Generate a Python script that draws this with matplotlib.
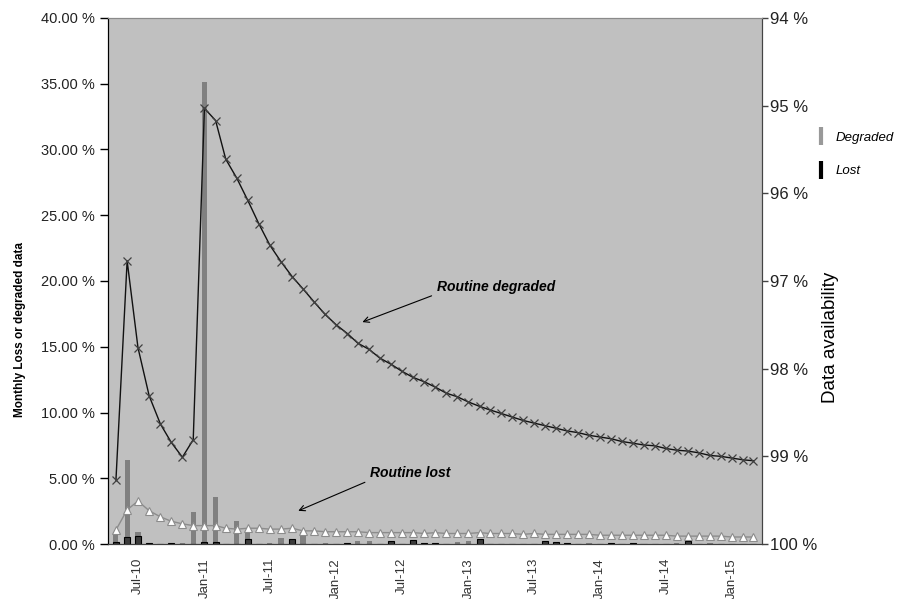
import matplotlib.pyplot as plt
import matplotlib.dates as mdates
from matplotlib.lines import Line2D
import pandas as pd

plt.rcParams['font.family'] = ['Liberation Sans', 'DejaVu Sans']

# monthly series, May-10 .. Mar-15
months = pd.date_range('2010-05-01', periods=59, freq='MS')

# bars (left axis, % of month)
degraded_bar = [0.8, 6.4, 0.9, 0.1, 0.0, 0.1, 0.05, 2.4, 35.1, 3.6,
                0.0, 1.75, 0.9, 0.0, 0.1, 0.45, 0.0, 0.9, 0.0, 0.05,
                0.0, 0.05, 0.2, 0.2, 0.0, 0.1, 0.0, 0.1, 0.1, 0.1,
                0.0, 0.15, 0.2, 0.4, 0.0, 0.0, 0.0, 0.0, 0.0, 0.1,
                0.1, 0.1, 0.0, 0.1, 0.0, 0.05, 0.0, 0.05, 0.0, 0.0,
                0.0, 0.1, 0.25, 0.0, 0.1, 0.0, 0.0, 0.0, 0.0]
lost_bar = [0.15, 0.55, 0.6, 0.05, 0.0, 0.1, 0.0, 0.0, 0.15, 0.15,
            0.0, 0.0, 0.4, 0.0, 0.0, 0.0, 0.4, 0.0, 0.0, 0.0,
            0.0, 0.1, 0.0, 0.0, 0.0, 0.25, 0.0, 0.3, 0.1, 0.05,
            0.0, 0.0, 0.0, 0.35, 0.0, 0.0, 0.0, 0.0, 0.0, 0.25,
            0.15, 0.1, 0.0, 0.0, 0.0, 0.1, 0.0, 0.1, 0.0, 0.0,
            0.0, 0.0, 0.2, 0.0, 0.0, 0.0, 0.0, 0.0, 0.0]

# lines (right axis, cumulative availability %)
routine_degraded = [99.27, 96.77, 97.76, 98.31, 98.63, 98.84, 99.01, 98.81, 95.03, 95.17,
                    95.61, 95.83, 96.08, 96.35, 96.59, 96.78, 96.95, 97.09, 97.24, 97.38,
                    97.50, 97.60, 97.71, 97.78, 97.88, 97.95, 98.03, 98.10, 98.15, 98.21,
                    98.28, 98.32, 98.38, 98.43, 98.47, 98.51, 98.55, 98.59, 98.62, 98.65,
                    98.68, 98.71, 98.73, 98.76, 98.78, 98.80, 98.83, 98.85, 98.87, 98.88,
                    98.91, 98.93, 98.94, 98.96, 98.99, 99.00, 99.02, 99.04, 99.05]
routine_lost = [99.84, 99.61, 99.51, 99.62, 99.69, 99.74, 99.77, 99.79, 99.79, 99.79,
                99.82, 99.83, 99.82, 99.82, 99.83, 99.83, 99.82, 99.85, 99.85, 99.86,
                99.86, 99.86, 99.86, 99.87, 99.87, 99.87, 99.87, 99.87, 99.88, 99.87,
                99.88, 99.88, 99.88, 99.87, 99.88, 99.88, 99.88, 99.89, 99.88, 99.89,
                99.89, 99.89, 99.89, 99.89, 99.90, 99.90, 99.90, 99.90, 99.90, 99.90,
                99.90, 99.91, 99.91, 99.91, 99.91, 99.91, 99.92, 99.92, 99.92]

left_ticks = [0, 5, 10, 15, 20, 25, 30, 35, 40]
right_ticks = [94, 95, 96, 97, 98, 99, 100]

fig = plt.figure(figsize=(8.97, 5.99), dpi=100)
ax = fig.add_axes([0.1204, 0.0918, 0.7291, 0.8782])
ax.set_facecolor('#c0c0c0')

ax.bar(months, degraded_bar, width=14, color='#808080', zorder=2)
ax.bar(months, lost_bar, width=17, color='#3c3c3c', edgecolor='black', linewidth=0.8, zorder=3)
ax.set_ylim(0, 40)
ax.set_yticks(left_ticks)
ax.set_yticklabels(['%.2f %%' % v for v in left_ticks], fontsize=10.5, color='#222222')
ax.set_xlim(months[0] - pd.Timedelta(days=22), months[-1] + pd.Timedelta(days=24))
ax.xaxis.set_major_locator(mdates.MonthLocator(bymonth=[1, 7]))
ax.xaxis.set_major_formatter(mdates.DateFormatter('%b-%y'))
ax.tick_params(axis='x', length=0, labelrotation=90, labelsize=9.5, labelcolor='#333333', pad=10)
ax.tick_params(axis='y', direction='out', length=6, width=1)

ax2 = ax.twinx()
ax2.plot(months, routine_lost, '-', color='#8c8c8c', lw=1, marker='^', ms=6,
         mfc='white', mec='#8c8c8c', mew=0.8, zorder=3)
ax2.plot(months, routine_degraded, '-', color='#111111', lw=1, marker='x', ms=5.5,
         mec='#404040', mew=0.9, zorder=4)
ax2.set_ylim(100, 94)
ax2.set_yticks(right_ticks)
ax2.set_yticklabels(['%d %%' % v for v in right_ticks], fontsize=12, color='#222222')
ax2.tick_params(axis='y', direction='out', length=4, width=1, pad=2,
                colors='#444444', labelcolor='#222222')

for a in (ax, ax2):
    a.spines['left'].set_color('black')
    a.spines['right'].set_color('#444444')
    a.spines['top'].set_color('#8a8a8a')
    a.spines['bottom'].set_color('#404040')

fig.text(0.022, 0.45, 'Monthly Loss or degraded data', rotation=90, fontsize=8.5,
         fontweight='bold', ha='center', va='center')
fig.text(0.926, 0.436, 'Data availability', rotation=90, fontsize=13.5,
         ha='center', va='center')

# arrows + labels
ax2.annotate('Routine degraded', xy=(0.385, 0.420), xycoords='axes fraction',
             xytext=(0.503, 0.489), textcoords='axes fraction', ha='left', va='center',
             fontsize=10, fontweight='bold', fontstyle='italic',
             arrowprops=dict(arrowstyle='->', color='black', lw=0.8, relpos=(0, 0), shrinkA=2))
ax2.annotate('Routine lost', xy=(0.287, 0.061), xycoords='axes fraction',
             xytext=(0.401, 0.135), textcoords='axes fraction', ha='left', va='center',
             fontsize=10, fontweight='bold', fontstyle='italic',
             arrowprops=dict(arrowstyle='->', color='black', lw=0.8, relpos=(0, 0), shrinkA=2))

handles = [Line2D([], [], ls='none', marker='|', ms=13, mew=3, color='#999999'),
           Line2D([], [], ls='none', marker='|', ms=13, mew=3, color='black')]
fig.legend(handles, ['Degraded', 'Lost'], loc='upper left', bbox_to_anchor=(0.895, 0.80),
           frameon=False, prop={'style': 'italic', 'size': 9.5}, handlelength=1,
           handletextpad=0.6, labelspacing=1.6)

fig.savefig('out.png', dpi=100)
